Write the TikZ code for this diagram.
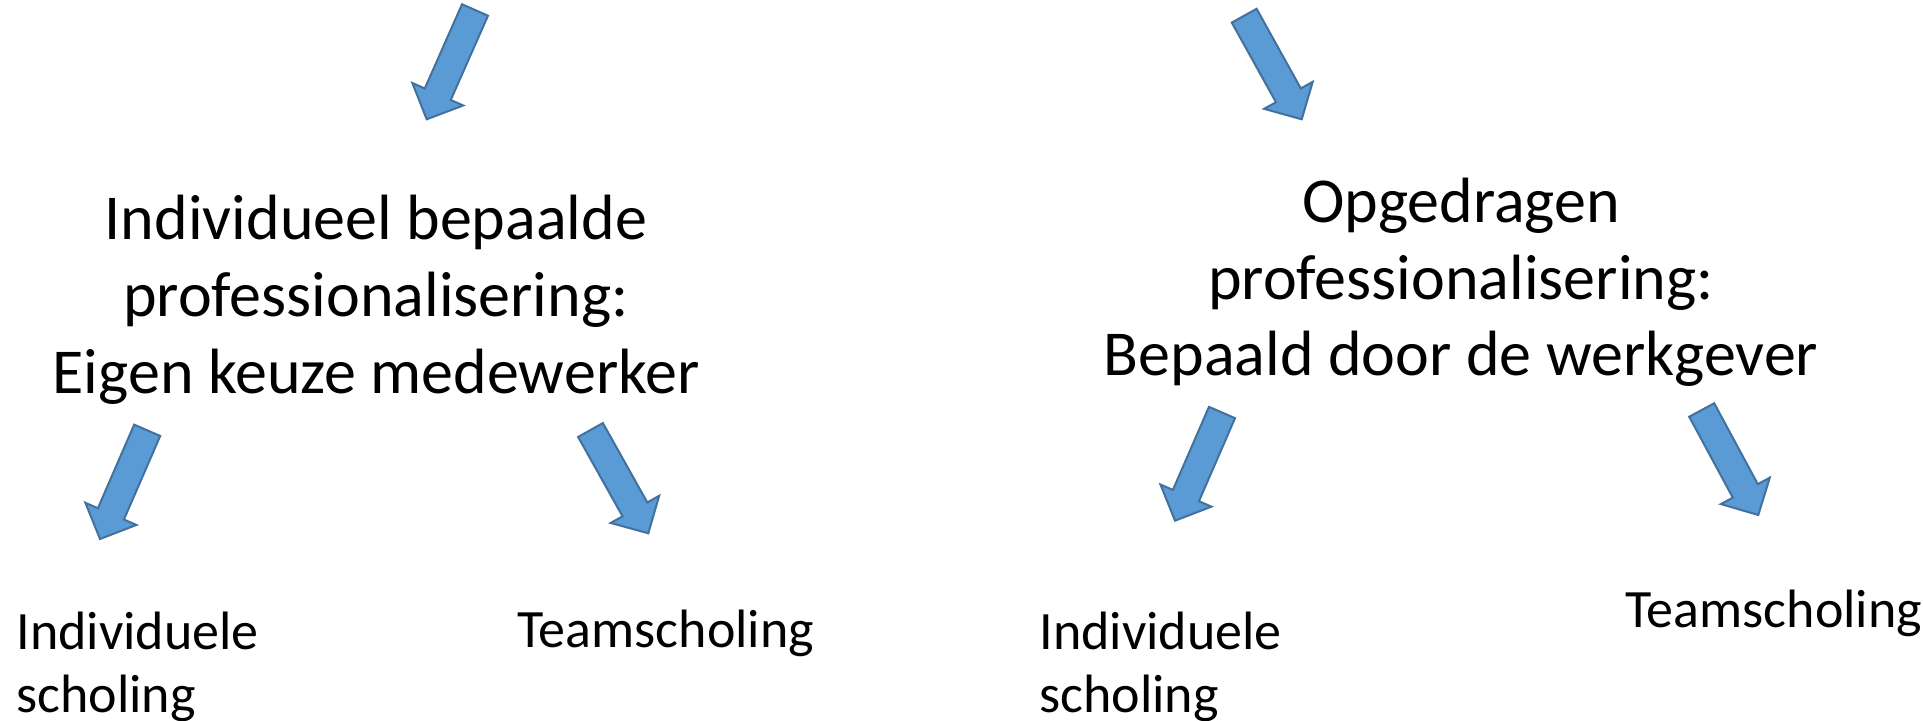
\documentclass[tikz,border=0pt]{standalone}
\usepackage{fontspec}
\setmainfont{Carlito}
\usetikzlibrary{calc, positioning}
\definecolor{arrowfill}{RGB}{91,155,213}
\definecolor{arrowline}{RGB}{65,113,156}
\tikzset{
x=0.5pt, y=-0.5pt, % one unit is one pixel of the slide, y runs downwards
every node/.style={inner sep=0pt, anchor=base}, % nodes sit on the baseline of their last line
main/.style={align=center, font=\fontsize{32}{38.4}\selectfont}, % the two big headings
sub/.style={align=left, anchor=base west, font=\fontsize{27}{31.2}\selectfont}, % the four kinds of scholing
blockarrow/.style={fill=arrowfill, draw=arrowline, line width=1pt, line join=miter}, % the fat blue arrows
}
% fat arrow from #1 (middle of its tail) to #2 (its tip)
\newcommand{\blockarrow}[2]{%
  \coordinate (hb) at ($(#2)!13.7pt!(#1)$);
  \filldraw[blockarrow] ($(#1)!7.1pt!90:(#2)$) -- ($(hb)!7.1pt!90:(#2)$)
    -- ($(hb)!13.9pt!90:(#2)$) -- (#2) -- ($(hb)!13.9pt!-90:(#2)$)
    -- ($(hb)!7.1pt!-90:(#2)$) -- ($(#1)!7.1pt!-90:(#2)$) -- cycle;
}

\begin{document}
\begin{tikzpicture}
      \useasboundingbox (0,0) rectangle (1923,721);

      \node[main] (eigen) at (376,393.5) {Individueel bepaalde\\professionalisering:\\Eigen keuze medewerker};
      \node[main] (opgedragen) at (1461,376) {Opgedragen\\professionalisering:\\Bepaald door de werkgever};
      \node[sub] (ind1) at (16,712) {Individuele\\scholing};
      \node[sub] (team1) at (517,647) {Teamscholing};
      \node[sub] (ind2) at (1039,712) {Individuele\\scholing};
      \node[sub] (team2) at (1625,627) {Teamscholing};

      \coordinate (a1s) at (475,10);
      \coordinate (a1e) at (426.7,119.3);
      \coordinate (a2s) at (1244.2,15.7);
      \coordinate (a2e) at (1301.7,119.3);
      \coordinate (a3s) at (147.2,430.3);
      \coordinate (a3e) at (100,539);
      \coordinate (a4s) at (590.5,430);
      \coordinate (a4e) at (648.3,533.3);
      \coordinate (a5s) at (1222,412.5);
      \coordinate (a5e) at (1175,520.7);
      \coordinate (a6s) at (1701.7,410);
      \coordinate (a6e) at (1758.3,515);

      \blockarrow{a1s}{a1e}
      \blockarrow{a2s}{a2e}
      \blockarrow{a3s}{a3e}
      \blockarrow{a4s}{a4e}
      \blockarrow{a5s}{a5e}
      \blockarrow{a6s}{a6e}
    \end{tikzpicture}
\end{document}
